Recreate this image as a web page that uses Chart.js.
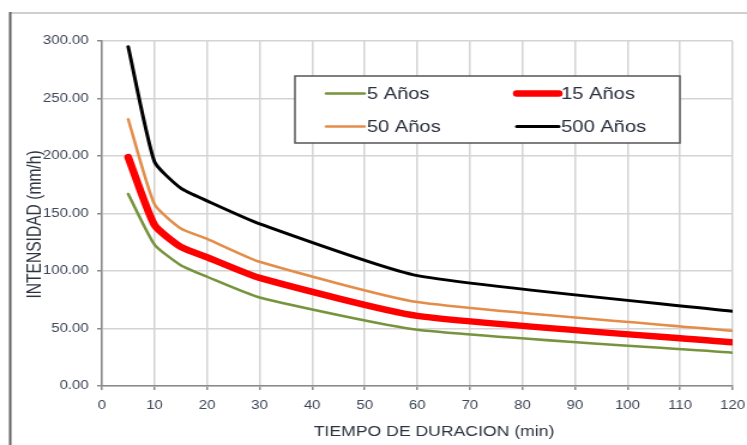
<!DOCTYPE html>
<html>
<head>
<meta charset="utf-8">
<script src="https://cdn.jsdelivr.net/npm/chart.js@4.4.1/dist/chart.umd.min.js"></script>
<style>
  html, body { margin: 0; padding: 0; background: #fff; overflow: hidden; }
  canvas { display: block; }
</style>
</head>
<body>
<!-- drawn at 623 wide, shown at 747 wide -->
<canvas id="idf" width="623" height="445" style="width:747px;height:445px"></canvas>
<script>
// duraciones (min) e intensidades (mm/h) por periodo de retorno
const duraciones = [5, 10, 15, 20, 30, 60, 120];
const tr5   = [167, 123, 105, 95, 77, 49, 29];
const tr15  = [199, 140, 121, 112, 94, 61, 38];
const tr50  = [232, 158, 137, 128, 108, 73, 48];
const tr500 = [295, 195, 172, 161, 141, 96, 65];

const etiquetas = ['5 Años', '15 Años', '50 Años', '500 Años'];
const xTicks = [0, 10, 20, 30, 40, 50, 60, 70, 80, 90, 100, 110, 120];
const yTicks = [0, 50, 100, 150, 200, 250, 300];

const FONT = '"Liberation Sans", Arial, sans-serif';
const TICK_COLOR = '#3f4758';
const GRID = '#d4d4d4';

function puntos(serie) {
    return duraciones.map((d, i) => ({x: d, y: serie[i]}));
}

function serie(label, data, color, width) {
    return {
        label: label,
        data: puntos(data),
        borderColor: color,
        backgroundColor: color,
        borderWidth: width,
        pointRadius: 0,
        tension: 0.18,
        fill: false,
        borderCapStyle: 'round',
        borderJoinStyle: 'round'
    };
}

//------------------------------ marco y fondo ------------------------------//
const marco = {
    id: 'marco',
    beforeDraw(chart) {
        const ctx = chart.ctx;
        ctx.save();
        ctx.fillStyle = '#fff';
        ctx.fillRect(0, 0, chart.width, chart.height);
        ctx.strokeStyle = '#cfcfcf';
        ctx.lineWidth = 2;
        ctx.beginPath();
        ctx.moveTo(8, 13);
        ctx.lineTo(chart.width, 13);
        ctx.stroke();
        ctx.strokeStyle = '#5e5e5e';
        ctx.lineWidth = 2;
        ctx.beginPath();
        ctx.moveTo(8.5, 12);
        ctx.lineTo(8.5, chart.height);
        ctx.stroke();
        ctx.restore();
    }
};

//------------------------------ titulos de ejes ------------------------------//
const titulos = {
    id: 'titulos',
    afterDraw(chart) {
        const ctx = chart.ctx;
        const area = chart.chartArea;
        ctx.save();
        ctx.fillStyle = '#2e3340';
        ctx.textAlign = 'center';
        ctx.textBaseline = 'middle';
        ctx.font = '14.7px ' + FONT;
        ctx.fillText('TIEMPO DE DURACION (min)', (area.left + area.right) / 2 + 14, 432);
        ctx.translate(29.5, (area.top + area.bottom) / 2 + 11);
        ctx.rotate(-Math.PI / 2);
        ctx.font = '15.6px ' + FONT;
        ctx.fillText('INTENSIDAD (mm/h)', 0, 0);
        ctx.restore();
    }
};

//------------------------------ leyenda en recuadro ------------------------------//
const leyenda = {
    id: 'leyenda',
    afterDraw(chart) {
        const ctx = chart.ctx;
        const box = {x: 246, y: 76, w: 321, h: 67};
        ctx.save();
        ctx.fillStyle = '#fff';
        ctx.fillRect(box.x, box.y, box.w, box.h);
        ctx.strokeStyle = '#555';
        ctx.lineWidth = 1.5;
        ctx.strokeRect(box.x, box.y, box.w, box.h);
        const cols = [{x0: 272, x1: 304}, {x0: 431, x1: 466}];
        const rows = [93.5, 126.5];
        ctx.font = '16.8px ' + FONT;
        ctx.textBaseline = 'middle';
        ctx.textAlign = 'left';
        chart.data.datasets.forEach((ds, i) => {
            const c = cols[i % 2];
            const y = rows[Math.floor(i / 2)];
            ctx.strokeStyle = ds.borderColor;
            ctx.lineWidth = ds.borderWidth;
            ctx.lineCap = 'round';
            ctx.beginPath();
            ctx.moveTo(c.x0, y);
            ctx.lineTo(c.x1, y);
            ctx.stroke();
            ctx.fillStyle = '#2a2f3c';
            ctx.fillText(ds.label, c.x1 + 2, y + 0.5);
        });
        ctx.restore();
    }
};

new Chart(document.getElementById('idf'), {
    type: 'line',
    data: {
        datasets: [
            serie(etiquetas[0], tr5, '#77933C', 2.5),
            serie(etiquetas[1], tr15, '#FF0000', 6.5),
            serie(etiquetas[2], tr50, '#E48D49', 2.5),
            serie(etiquetas[3], tr500, '#000000', 3)
        ]
    },
    plugins: [marco, titulos, leyenda],
    options: {
        responsive: false,
        devicePixelRatio: 1,
        animation: false,
        layout: {
            padding: {top: 41, right: 12, left: 0, bottom: 0}
        },
        plugins: {
            legend: {display: false},
            tooltip: {enabled: false}
        },
        scales: {
            x: {
                type: 'linear',
                min: 0,
                max: 120,
                afterBuildTicks: (scale) => { scale.ticks = xTicks.map(v => ({value: v})); },
                afterFit: (scale) => {
                    scale.height = 59;
                    scale.paddingLeft = 0;
                    scale.paddingRight = 0;
                },
                ticks: {
                    color: TICK_COLOR,
                    font: {family: FONT, size: 12.5},
                    padding: 8,
                    maxRotation: 0
                },
                grid: {color: GRID, lineWidth: 1.5, tickLength: 4, tickColor: '#8a8a8a'},
                border: {color: '#8a8a8a', width: 1.5}
            },
            y: {
                min: 0,
                max: 300,
                afterBuildTicks: (scale) => { scale.ticks = yTicks.map(v => ({value: v})); },
                afterFit: (scale) => { scale.width = 85; },
                ticks: {
                    color: TICK_COLOR,
                    font: {family: FONT, size: 12.5},
                    padding: 7,
                    callback: (v) => Number(v).toFixed(2)
                },
                grid: {color: GRID, lineWidth: 1.5, tickLength: 4, tickColor: '#8a8a8a'},
                border: {color: '#8a8a8a', width: 1.5}
            }
        }
    }
});
</script>
</body>
</html>
